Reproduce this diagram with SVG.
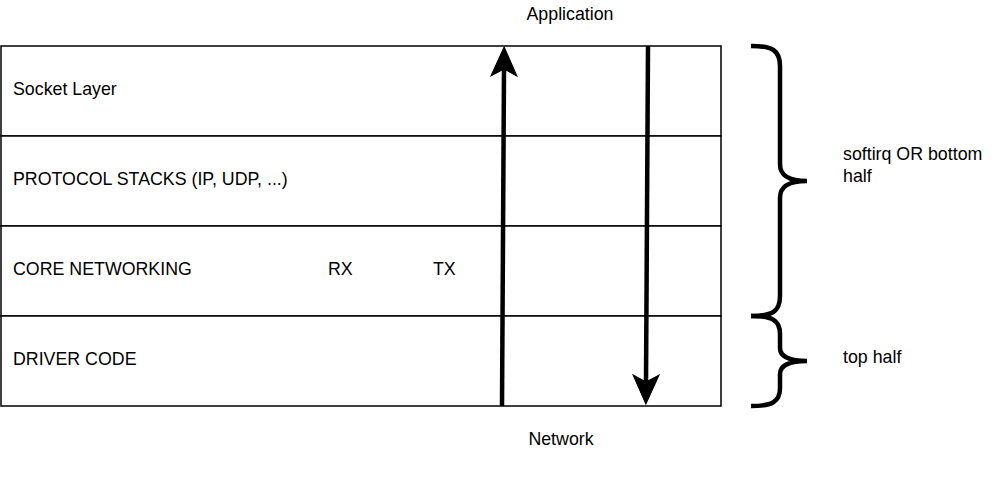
<svg xmlns="http://www.w3.org/2000/svg" width="992" height="482" viewBox="0 0 992 482">
<style>
.box{fill:#ffffff;stroke:#000000;stroke-width:1.5}
.t{font-family:"Liberation Sans",Arial,sans-serif;font-size:17.8px;fill:#000000}
.conn{fill:none;stroke:#000000;stroke-width:4.5}
.brace{fill:none;stroke:#000000;stroke-width:4.5;stroke-linecap:butt}
</style>
<defs>
<marker id="ah" markerUnits="userSpaceOnUse" markerWidth="40" markerHeight="40" viewBox="-10 -15 40 30" refX="0" refY="0" orient="auto" overflow="visible">
<path d="M22,0 L-7,-13 L0,0 L-7,13 Z" fill="#000000" stroke="#000000" stroke-width="1"/>
</marker>
</defs>
<rect width="992" height="482" fill="#ffffff"/>
<g id="socket-layer"><rect class="box" x="1" y="46" width="720" height="90"/><text class="t" x="13" y="95">Socket Layer</text></g>
<g id="protocol-stacks"><rect class="box" x="1" y="136" width="720" height="90"/><text class="t" x="13" y="185">PROTOCOL STACKS (IP, UDP, ...)</text></g>
<g id="core-networking"><rect class="box" x="1" y="226" width="720" height="90"/><text class="t" x="13" y="275">CORE NETWORKING</text><text class="t" x="328" y="275">RX</text><text class="t" x="433" y="275">TX</text></g>
<g id="driver-code"><rect class="box" x="1" y="316" width="720" height="90"/><text class="t" x="13" y="365">DRIVER CODE</text></g>
<g id="application"><text class="t" x="570" y="20" text-anchor="middle">Application</text></g>
<g id="network"><text class="t" x="561" y="445" text-anchor="middle">Network</text></g>
<g id="brace-softirq"><path class="brace" d="M751,46 C772,46 780,50 780,66 L780,164 C780,176 789,181 807,181 M807,181 C789,181 780,186 780,198 L780,296 C780,312 772,316 751,316"/></g>
<g id="label-softirq"><text class="t" x="843" y="160">softirq OR bottom</text><text class="t" x="843" y="182">half</text></g>
<g id="brace-top"><path class="brace" d="M751,316 C772,316 780,320 780,334 L780,348 C780,356 789,361 807,361 M807,361 C789,361 780,366 780,374 L780,388 C780,402 772,406 751,406"/></g>
<g id="label-top"><text class="t" x="843" y="363">top half</text></g>
<g id="connectors">
<line class="conn" x1="502" y1="406" x2="504" y2="69" marker-end="url(#ah)"/>
<line class="conn" x1="648" y1="46" x2="646" y2="382" marker-end="url(#ah)"/>
</g>
</svg>
